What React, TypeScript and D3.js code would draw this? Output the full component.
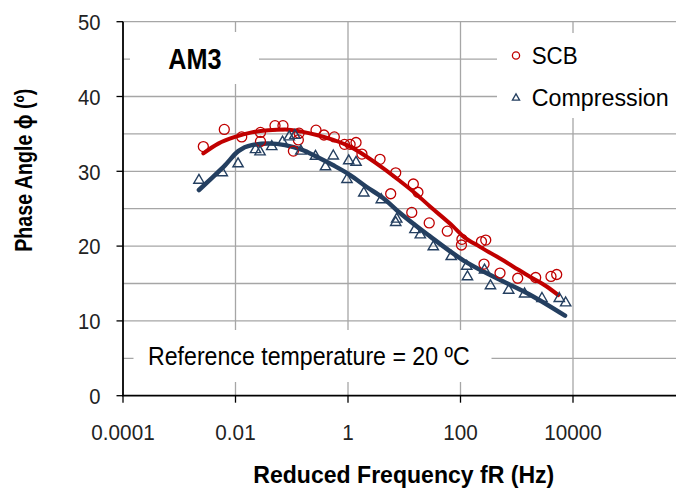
import React from "react";
import * as d3 from "d3";

// ---------- data ----------
const scbFreq = [0.00268, 0.00632, 0.0129, 0.0278, 0.0278, 0.0504, 0.0698, 0.131, 0.107, 0.135, 0.27, 0.374, 0.571, 0.867, 1.09, 1.39, 1.77, 3.71, 7.05, 14.5, 17.5, 5.74, 13.6, 27.8, 58.2, 106, 104, 236, 281, 262, 504, 1040, 2170, 4060, 5130];
const scbPhase = [33.3, 35.6, 34.6, 35.2, 34.0, 36.1, 36.1, 34.2, 32.7, 35.1, 35.5, 34.85, 34.6, 33.6, 33.6, 33.85, 32.3, 31.6, 29.8, 28.3, 27.2, 27.0, 24.5, 23.1, 22.0, 20.9, 20.15, 20.6, 20.8, 17.6, 16.4, 15.7, 15.8, 15.95, 16.2];

const compFreq = [0.00224, 0.00582, 0.0111, 0.0227, 0.0273, 0.0441, 0.0685, 0.0902, 0.114, 0.145, 0.264, 0.398, 0.548, 0.959, 1.03, 1.39, 1.91, 3.91, 7.35, 7.05, 15.5, 19.3, 32.8, 68.4, 129, 133, 267, 341, 719, 1380, 2810, 5700, 7410];
const compPhase = [28.8, 29.8, 31.0, 32.9, 32.6, 33.3, 33.9, 34.6, 34.8, 32.7, 32.0, 30.6, 32.05, 28.9, 31.4, 31.2, 27.1, 26.2, 23.6, 23.15, 22.2, 21.5, 19.9, 18.6, 17.3, 15.9, 16.8, 14.7, 14.1, 13.6, 13.0, 13.0, 12.4];

const scbFitFreq = [0.00268, 0.00494, 0.0098, 0.0194, 0.0383, 0.0759, 0.15, 0.278, 0.548, 1.09, 2.15, 4.25, 8.39, 16.6, 28.7, 74.5, 112, 222, 441, 871, 1720, 3400, 5470];
const scbFitPhase = [32.4, 33.7, 34.6, 35.2, 35.5, 35.6, 35.3, 34.85, 34.2, 33.3, 31.95, 30.4, 28.7, 26.9, 25.3, 22.6, 21.3, 19.9, 18.6, 17.25, 15.9, 14.6, 13.45];

const compFitFreq = [0.00224, 0.00378, 0.0065, 0.0112, 0.0194, 0.0383, 0.0759, 0.15, 0.278, 0.548, 1.09, 2.15, 4.25, 7.35, 28.7, 112, 441, 1720, 7210];
const compFitPhase = [27.5, 29.1, 30.8, 32.7, 33.5, 33.7, 33.5, 32.9, 31.95, 30.8, 29.5, 27.9, 26.4, 24.8, 21.3, 18.1, 15.7, 13.5, 10.7];

const xTicks = [0.0001, 0.01, 1, 100, 10000];
const xTickLabels = ["0.0001", "0.01", "1", "100", "10000"];
const xGrid = [0.01, 1, 100, 10000, 1000000];
const yTicks = [0, 10, 20, 30, 40, 50];
const yGrid = [5, 10, 15, 20, 25, 30, 35, 40, 45, 50];

const RED = "#C00000";
const NAVY = "#243F60";
const GRID = "#A6A6A6";
const FONT = "'Liberation Sans', Arial, sans-serif";

export default function App() {
  const W = 676;
  const H = 497;
  const x = d3.scaleLog().domain([1e-4, 1e6]).range([123, 685.5]);
  const y = d3.scaleLinear().domain([0, 50]).range([395.7, 21.7]);

  const line = d3
    .line<[number, number]>()
    .x((d) => x(d[0]))
    .y((d) => y(d[1]))
    .curve(d3.curveMonotoneX);

  const scbFit = scbFitFreq.map((f, i) => [f, scbFitPhase[i]] as [number, number]);
  const compFit = compFitFreq.map((f, i) => [f, compFitPhase[i]] as [number, number]);
  const tri = d3.symbol().type(d3.symbolTriangle).size(46)() as string;
  const triSmall = d3.symbol().type(d3.symbolTriangle).size(22)() as string;

  const x0 = x(1e-4);
  const yb = y(0);

  return (
    <svg
      width={W}
      height={H}
      style={{ position: "absolute", left: 0, top: 0, background: "#fff" }}
      fontFamily={FONT}
    >
      <rect x={0} y={0} width={W} height={H} fill="#fff" />
      {/* horizontal gridlines */}
      {yGrid.map((v) => (
        <line key={"hg" + v} x1={x0} x2={W} y1={y(v)} y2={y(v)} stroke={GRID} strokeWidth={1.3} />
      ))}
      {/* vertical gridlines */}
      {xGrid.map((v) => (
        <line key={"vg" + v} x1={x(v)} x2={x(v)} y1={y(50)} y2={yb} stroke={GRID} strokeWidth={1.3} />
      ))}

      {/* white label boxes */}
      <rect x={130} y={32} width={129} height={52} fill="#fff" />
      <rect x={497} y={33} width={179} height={85} fill="#fff" />
      <rect x={133.5} y={330} width={358} height={52} fill="#fff" />

      {/* axes */}
      <line x1={x0} x2={x0} y1={y(50)} y2={yb} stroke="#000" strokeWidth={1.8} />
      <line x1={x0 - 1} x2={W} y1={yb} y2={yb} stroke="#000" strokeWidth={1.8} />
      {yTicks.map((v) => (
        <line key={"yt" + v} x1={x0 - 6.5} x2={x0} y1={y(v)} y2={y(v)} stroke="#000" strokeWidth={1.3} />
      ))}
      {xTicks.map((v) => (
        <line key={"xt" + v} x1={x(v)} x2={x(v)} y1={yb} y2={yb + 7} stroke="#000" strokeWidth={1.3} />
      ))}

      {/* tick labels */}
      {yTicks.map((v) => (
        <text
          key={"yl" + v}
          transform={`translate(100.5,${y(v) + 8.3}) scale(0.92,1)`}
          textAnchor="end"
          fontSize={22}
          fill="#222"
        >
          {v}
        </text>
      ))}
      {xTicks.map((v, i) => (
        <text
          key={"xl" + v}
          transform={`translate(${x(v)},440) scale(0.92,1)`}
          textAnchor="middle"
          fontSize={22.5}
          fill="#222"
        >
          {xTickLabels[i]}
        </text>
      ))}

      {/* fitted lines */}
      <path d={line(scbFit) || ""} fill="none" stroke={RED} strokeWidth={4} strokeLinecap="round" strokeLinejoin="round" />
      <path d={line(compFit) || ""} fill="none" stroke={NAVY} strokeWidth={4.5} strokeLinecap="round" strokeLinejoin="round" />

      {/* markers */}
      {scbFreq.map((f, i) => (
        <circle key={"c" + i} cx={x(f)} cy={y(scbPhase[i])} r={5} fill="none" stroke={RED} strokeWidth={1.3} />
      ))}
      {compFreq.map((f, i) => (
        <path
          key={"t" + i}
          d={tri}
          transform={`translate(${x(f)},${y(compPhase[i])})`}
          fill="none"
          stroke={NAVY}
          strokeWidth={1.4}
        />
      ))}

      {/* AM3 label */}
      <text x={168.3} y={69} fontSize={29} fontWeight={700} textLength={53.3} lengthAdjust="spacingAndGlyphs" fill="#000">
        AM3
      </text>

      {/* legend */}
      <circle cx={516} cy={55.5} r={3.6} fill="none" stroke={RED} strokeWidth={1.3} />
      <text x={531.7} y={64.3} fontSize={24} textLength={46} lengthAdjust="spacingAndGlyphs" fill="#000">
        SCB
      </text>
      <path d={triSmall} transform="translate(516,98)" fill="none" stroke={NAVY} strokeWidth={1.3} />
      <text x={531.7} y={106} fontSize={23.5} textLength={137} lengthAdjust="spacingAndGlyphs" fill="#000">
        Compression
      </text>

      {/* reference temperature */}
      <text x={148} y={365} fontSize={25} textLength={321.7} lengthAdjust="spacingAndGlyphs" fill="#000">
        Reference temperature = 20 ºC
      </text>

      {/* axis titles */}
      <text
        x={403.8}
        y={483.3}
        textAnchor="middle"
        fontSize={23}
        fontWeight={700}
        textLength={301}
        lengthAdjust="spacingAndGlyphs"
        fill="#000"
      >
        Reduced Frequency fR (Hz)
      </text>
      <text
        transform={`translate(31.7,170.3) rotate(-90)`}
        textAnchor="middle"
        fontSize={23}
        fontWeight={700}
        textLength={163}
        lengthAdjust="spacingAndGlyphs"
        fill="#000"
      >
        Phase Angle ϕ (º)
      </text>
    </svg>
  );
}
